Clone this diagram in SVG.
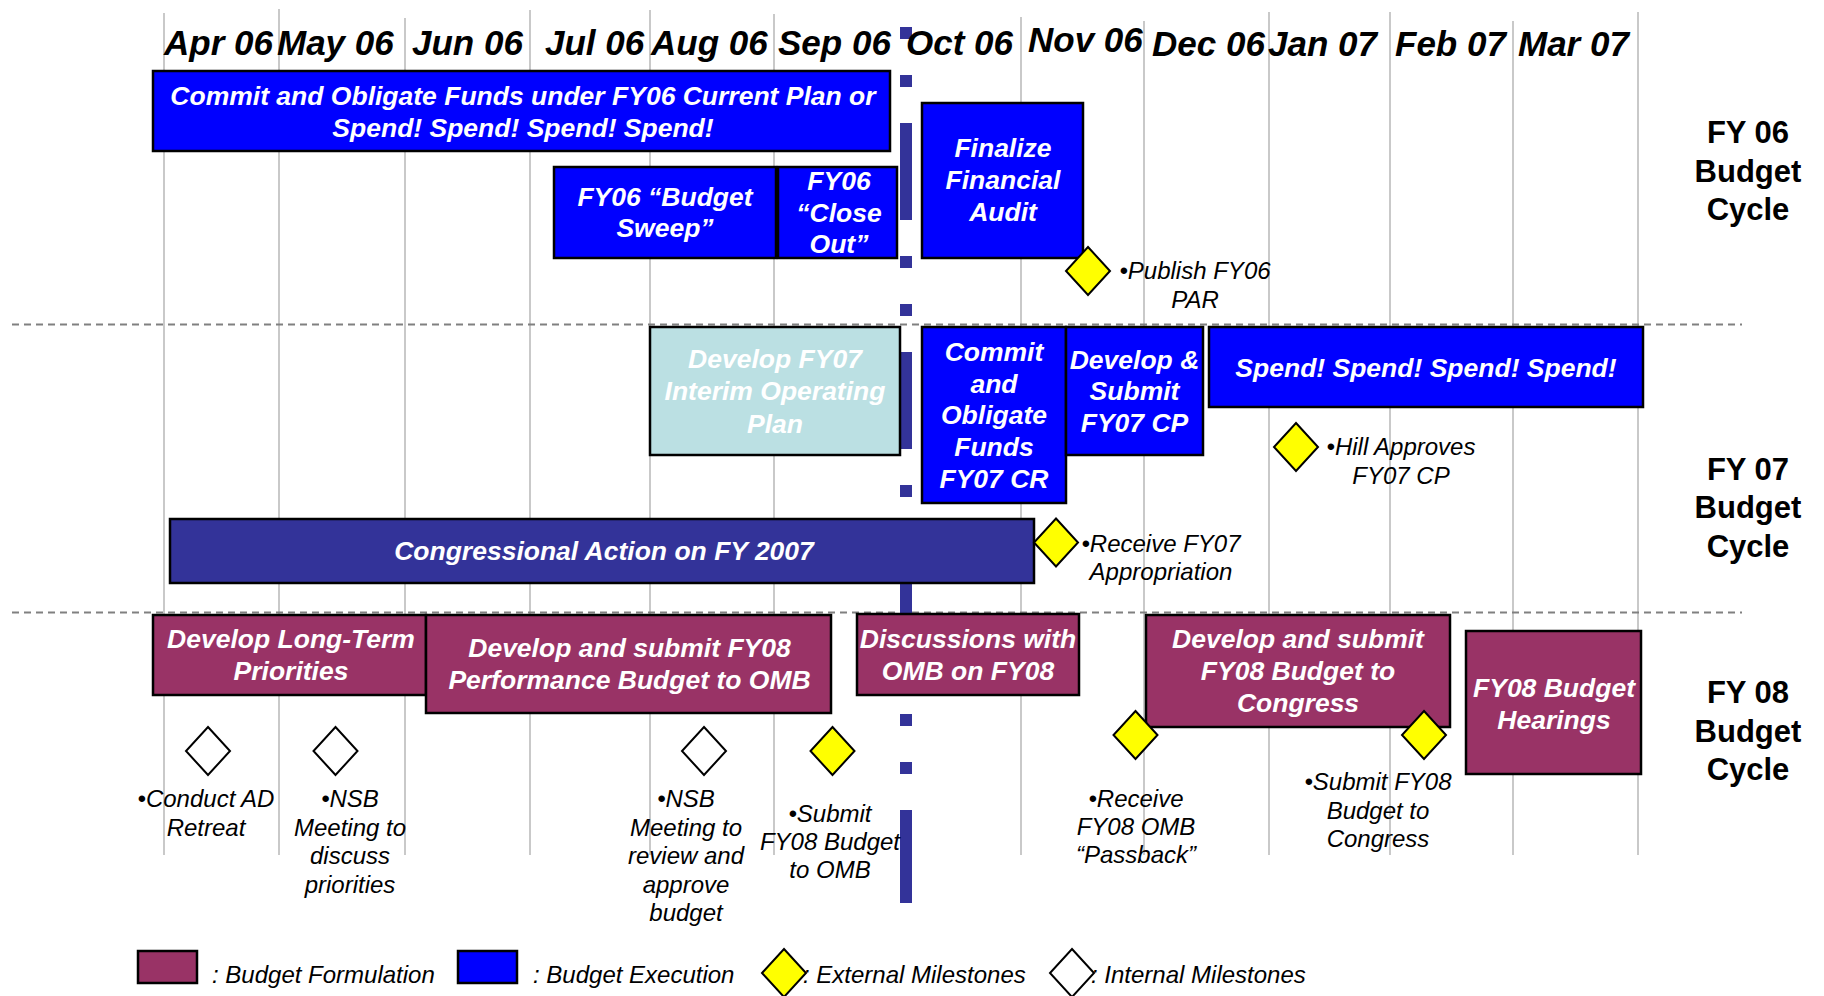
<svg xmlns="http://www.w3.org/2000/svg" width="1824" height="996" viewBox="0 0 1824 996">
  <defs>
    <style>
      text { font-family: "Liberation Sans", Arial, sans-serif; }
      .month { font-size: 35px; font-weight: bold; font-style: italic; fill: #000; }
      .grid { stroke: #b2b2b2; stroke-width: 1.4; }
      .divider { stroke: #808080; stroke-width: 2; stroke-dasharray: 7 5; fill: none; }
      .fiscal { stroke: #333399; stroke-width: 12; stroke-dasharray: 12 36 12 36 97 36; fill: none; }
      .exec { fill: #0000ff; stroke: #000; stroke-width: 2.5; }
      .form { fill: #993366; stroke: #000; stroke-width: 2.5; }
      .cong { fill: #333399; stroke: #000; stroke-width: 2.5; }
      .plan { fill: #bbe0e3; stroke: #000; stroke-width: 2.5; }
      .label { font-size: 26.5px; font-weight: bold; font-style: italic; fill: #fff; text-anchor: middle; }
      .ext { fill: #ffff00; stroke: #000; stroke-width: 2; }
      .int { fill: #fff; stroke: #000; stroke-width: 2; }
      .note { font-size: 24px; font-style: italic; fill: #000; text-anchor: middle; }
      .legend { font-size: 24px; font-style: italic; fill: #000; }
      .cycle { font-size: 31px; font-weight: bold; fill: #000; text-anchor: middle; }
    </style>
    <polygon id="diamond" points="0,-24 22,0 0,24 -22,0"/>
  </defs>

  <rect width="1824" height="996" fill="#fff"/>

  <!-- month grid -->
  <g id="grid">
    <line class="grid" x1="164" y1="13" x2="164" y2="855"/>
    <line class="grid" x1="279" y1="9" x2="279" y2="855"/>
    <line class="grid" x1="405" y1="18" x2="405" y2="855"/>
    <line class="grid" x1="530" y1="10" x2="530" y2="855"/>
    <line class="grid" x1="650" y1="10" x2="650" y2="855"/>
    <line class="grid" x1="774" y1="14" x2="774" y2="855"/>
    <line class="grid" x1="1021" y1="17" x2="1021" y2="855"/>
    <line class="grid" x1="1144" y1="21" x2="1144" y2="855"/>
    <line class="grid" x1="1269" y1="12" x2="1269" y2="855"/>
    <line class="grid" x1="1390" y1="12" x2="1390" y2="855"/>
    <line class="grid" x1="1513" y1="21" x2="1513" y2="855"/>
    <line class="grid" x1="1638" y1="12" x2="1638" y2="855"/>
    <line class="divider" x1="12" y1="324.5" x2="1742" y2="324.5"/>
    <line class="divider" x1="12" y1="612.5" x2="1742" y2="612.5"/>
    <!-- start of fiscal year -->
    <line class="fiscal" x1="906" y1="27" x2="906" y2="903"/>
  </g>

  <g id="months">
    <text class="month" x="164" y="55">Apr 06</text>
    <text class="month" x="277" y="55">May 06</text>
    <text class="month" x="412" y="55">Jun 06</text>
    <text class="month" x="545" y="55">Jul 06</text>
    <text class="month" x="651" y="55">Aug 06</text>
    <text class="month" x="778" y="55">Sep 06</text>
    <text class="month" x="906" y="55">Oct 06</text>
    <text class="month" x="1028" y="52">Nov 06</text>
    <text class="month" x="1152" y="56">Dec 06</text>
    <text class="month" x="1268" y="56">Jan 07</text>
    <text class="month" x="1395" y="56">Feb 07</text>
    <text class="month" x="1518" y="56">Mar 07</text>
  </g>

  <g id="connectors"/>

  <!-- FY 06 -->
  <g id="fy06-commit">
    <rect class="exec" x="153" y="71" width="737" height="80"/>
    <text class="label" x="523" y="105">Commit and Obligate Funds under FY06 Current Plan or</text>
    <text class="label" x="523" y="137">Spend! Spend! Spend! Spend!</text>
  </g>
  <g id="fy06-sweep">
    <rect class="exec" x="554" y="167" width="222" height="91"/>
    <text class="label" x="665" y="206">FY06 “Budget</text>
    <text class="label" x="665" y="237">Sweep”</text>
  </g>
  <g id="fy06-closeout">
    <rect class="exec" x="778" y="167" width="119" height="91"/>
    <text class="label" x="839" y="190">FY06</text>
    <text class="label" x="839" y="221.5">“Close</text>
    <text class="label" x="839" y="253">Out”</text>
  </g>
  <g id="fy06-audit">
    <rect class="exec" x="922" y="103" width="161" height="155"/>
    <text class="label" x="1003" y="157">Finalize</text>
    <text class="label" x="1003" y="189">Financial</text>
    <text class="label" x="1003" y="221">Audit</text>
  </g>
  <g id="fy06-par">
    <use href="#diamond" class="ext" x="1088" y="271"/>
    <text class="note" x="1195" y="279">•Publish FY06</text>
    <text class="note" x="1195" y="308">PAR</text>
  </g>
  <g id="fy06-title">
    <text class="cycle" x="1748" y="143">FY 06</text>
    <text class="cycle" x="1748" y="182">Budget</text>
    <text class="cycle" x="1748" y="220">Cycle</text>
  </g>

  <!-- FY 07 -->
  <g id="fy07-interim">
    <rect class="plan" x="650" y="327" width="250" height="128"/>
    <text class="label" x="775" y="368">Develop FY07</text>
    <text class="label" x="775" y="400">Interim Operating</text>
    <text class="label" x="775" y="432.5">Plan</text>
  </g>
  <g id="fy07-congress">
    <rect class="cong" x="170" y="519" width="864" height="64"/>
    <text class="label" x="604" y="560">Congressional Action on FY 2007</text>
  </g>
  <g id="fy07-cr">
    <rect class="exec" x="922" y="327" width="144" height="176"/>
    <text class="label" x="994" y="361">Commit</text>
    <text class="label" x="994" y="392.5">and</text>
    <text class="label" x="994" y="424">Obligate</text>
    <text class="label" x="994" y="456">Funds</text>
    <text class="label" x="994" y="488">FY07 CR</text>
  </g>
  <g id="fy07-cp">
    <rect class="exec" x="1066" y="327" width="137" height="128"/>
    <text class="label" x="1134.5" y="369">Develop &amp;</text>
    <text class="label" x="1134.5" y="400">Submit</text>
    <text class="label" x="1134.5" y="432">FY07 CP</text>
  </g>
  <g id="fy07-spend">
    <rect class="exec" x="1209" y="327" width="434" height="80"/>
    <text class="label" x="1426" y="377">Spend! Spend! Spend! Spend!</text>
  </g>
  <g id="fy07-hill">
    <use href="#diamond" class="ext" x="1296" y="447"/>
    <text class="note" x="1401" y="455">•Hill Approves</text>
    <text class="note" x="1401" y="484">FY07 CP</text>
  </g>
  <g id="fy07-appropriation">
    <use href="#diamond" class="ext" x="1056" y="542.5"/>
    <text class="note" x="1161" y="552">•Receive FY07</text>
    <text class="note" x="1161" y="580">Appropriation</text>
  </g>
  <g id="fy07-title">
    <text class="cycle" x="1748" y="480">FY 07</text>
    <text class="cycle" x="1748" y="518">Budget</text>
    <text class="cycle" x="1748" y="557">Cycle</text>
  </g>

  <!-- FY 08 -->
  <g id="fy08-priorities">
    <rect class="form" x="153" y="615" width="273" height="80"/>
    <text class="label" x="291" y="648">Develop Long-Term</text>
    <text class="label" x="291" y="680">Priorities</text>
  </g>
  <g id="fy08-omb-budget">
    <rect class="form" x="426" y="615" width="405" height="98"/>
    <text class="label" x="629.5" y="657">Develop and submit FY08</text>
    <text class="label" x="629.5" y="689">Performance Budget to OMB</text>
  </g>
  <g id="fy08-discussions">
    <rect class="form" x="857" y="614" width="222" height="81"/>
    <text class="label" x="968" y="648">Discussions with</text>
    <text class="label" x="968" y="680">OMB on FY08</text>
  </g>
  <g id="fy08-congress-budget">
    <rect class="form" x="1146" y="615" width="304" height="112"/>
    <text class="label" x="1298" y="648">Develop and submit</text>
    <text class="label" x="1298" y="680">FY08 Budget to</text>
    <text class="label" x="1298" y="712">Congress</text>
  </g>
  <g id="fy08-hearings">
    <rect class="form" x="1466" y="631" width="175" height="143"/>
    <text class="label" x="1554" y="697">FY08 Budget</text>
    <text class="label" x="1554" y="728.5">Hearings</text>
  </g>
  <g id="fy08-retreat">
    <use href="#diamond" class="int" x="208" y="751"/>
    <text class="note" x="206" y="807">•Conduct AD</text>
    <text class="note" x="206" y="836">Retreat</text>
  </g>
  <g id="fy08-nsb-priorities">
    <use href="#diamond" class="int" x="335.5" y="751"/>
    <text class="note" x="350" y="807">•NSB</text>
    <text class="note" x="350" y="836">Meeting to</text>
    <text class="note" x="350" y="864">discuss</text>
    <text class="note" x="350" y="893">priorities</text>
  </g>
  <g id="fy08-nsb-approve">
    <use href="#diamond" class="int" x="704" y="751"/>
    <text class="note" x="686" y="807">•NSB</text>
    <text class="note" x="686" y="836">Meeting to</text>
    <text class="note" x="686" y="864">review and</text>
    <text class="note" x="686" y="893">approve</text>
    <text class="note" x="686" y="921">budget</text>
  </g>
  <g id="fy08-submit-omb">
    <use href="#diamond" class="ext" x="832.5" y="751"/>
    <text class="note" x="830" y="822">•Submit</text>
    <text class="note" x="830" y="850">FY08 Budget</text>
    <text class="note" x="830" y="878">to OMB</text>
  </g>
  <g id="fy08-passback">
    <use href="#diamond" class="ext" x="1135.5" y="735"/>
    <text class="note" x="1136" y="807">•Receive</text>
    <text class="note" x="1136" y="835">FY08 OMB</text>
    <text class="note" x="1136" y="863">“Passback”</text>
  </g>
  <g id="fy08-submit-congress">
    <use href="#diamond" class="ext" x="1424" y="735"/>
    <text class="note" x="1378" y="790">•Submit FY08</text>
    <text class="note" x="1378" y="819">Budget to</text>
    <text class="note" x="1378" y="847">Congress</text>
  </g>
  <g id="fy08-title">
    <text class="cycle" x="1748" y="703">FY 08</text>
    <text class="cycle" x="1748" y="742">Budget</text>
    <text class="cycle" x="1748" y="780">Cycle</text>
  </g>

  <!-- key -->
  <g id="legend">
    <rect class="form" x="138" y="951" width="59" height="32"/>
    <text class="legend" x="212" y="983">: Budget Formulation</text>
    <rect class="exec" x="458" y="951" width="59" height="32"/>
    <text class="legend" x="533" y="983">: Budget Execution</text>
    <use href="#diamond" class="ext" x="784" y="973"/>
    <text class="legend" x="803" y="983">: External Milestones</text>
    <use href="#diamond" class="int" x="1072" y="973"/>
    <text class="legend" x="1091" y="983">: Internal Milestones</text>
  </g>
</svg>
